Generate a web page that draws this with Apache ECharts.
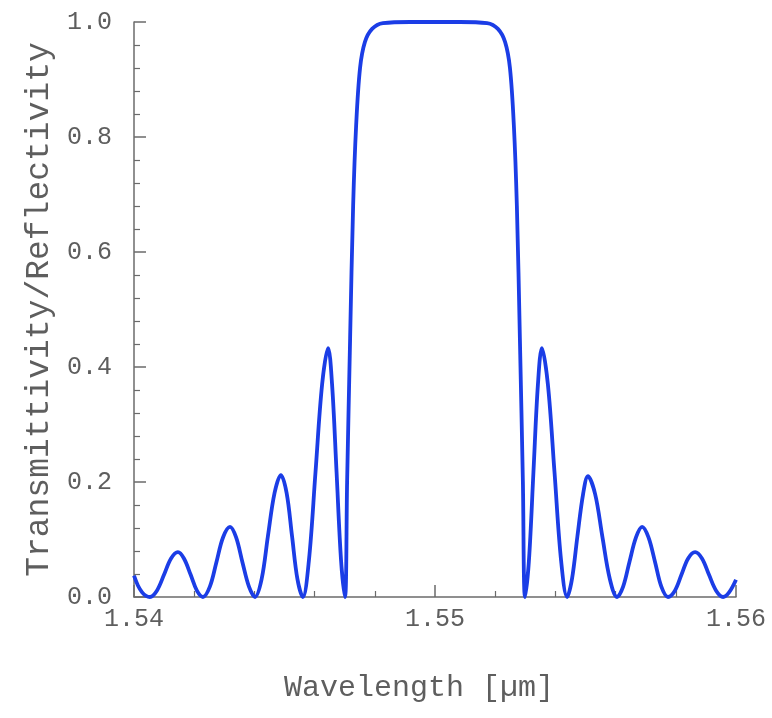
<!DOCTYPE html>
<html>
<head>
<meta charset="utf-8">
<title>Transmittivity / Reflectivity</title>
<script src="https://cdn.jsdelivr.net/npm/echarts@6/dist/echarts.min.js"></script>
<style>
  html, body { margin: 0; padding: 0; background: #fff; }
  #chart { width: 772px; height: 718px; }
</style>
</head>
<body>
<div id="chart"></div>
<script>
// wavelength in um
var wavelength = [
  1.54000, 1.54013, 1.54027, 1.54040, 1.54053,
  1.54076, 1.54100, 1.54123, 1.54146, 1.54166, 1.54188, 1.54209, 1.54229,
  1.54252, 1.54274, 1.54296, 1.54319, 1.54339, 1.54360, 1.54382, 1.54402,
  1.54424, 1.54445, 1.54467, 1.54488, 1.54507, 1.54525, 1.54543, 1.54561,
  1.54581, 1.54603, 1.54625, 1.54645, 1.54658, 1.54673, 1.54688, 1.54701,
  1.54708, 1.54718, 1.54728, 1.54738, 1.54751, 1.54767, 1.54791, 1.54827,
  1.54917, 1.55000, 1.55083,
  1.55173, 1.55209, 1.55233, 1.55249, 1.55262, 1.55272, 1.55282, 1.55292,
  1.55299, 1.55312, 1.55327, 1.55342, 1.55355, 1.55375, 1.55397, 1.55419,
  1.55439, 1.55455, 1.55473, 1.55492, 1.55508, 1.55532, 1.55556, 1.55581,
  1.55605, 1.55625, 1.55646, 1.55668, 1.55688, 1.55709, 1.55731, 1.55752,
  1.55774, 1.55797, 1.55819, 1.55841, 1.55864, 1.55887, 1.55910, 1.55934,
  1.55957, 1.55977, 1.56000
];
// reflectivity at each wavelength
var reflectivity = [
  0.037, 0.020, 0.008, 0.002, 0.000,
  0.011, 0.039, 0.067, 0.078, 0.067, 0.039, 0.011, 0.000,
  0.018, 0.061, 0.104, 0.122, 0.104, 0.061, 0.018, 0.000,
  0.031, 0.106, 0.181, 0.212, 0.181, 0.106, 0.031, 0.000,
  0.063, 0.217, 0.370, 0.433, 0.370, 0.217, 0.063, 0.000,
  0.200, 0.450, 0.680, 0.820, 0.920, 0.965, 0.988, 0.998,
  1.000, 1.000, 1.000,
  0.998, 0.988, 0.965, 0.920, 0.820, 0.680, 0.450, 0.200,
  0.000, 0.063, 0.217, 0.370, 0.433, 0.370, 0.217, 0.063,
  0.000, 0.031, 0.105, 0.179, 0.210, 0.179, 0.105, 0.031,
  0.000, 0.018, 0.061, 0.104, 0.122, 0.104, 0.061, 0.018,
  0.000, 0.011, 0.039, 0.067, 0.078, 0.067, 0.039, 0.011,
  0.000, 0.008, 0.030
];
var xTicks = [1.54, 1.55, 1.56];
var yTicks = [0.0, 0.2, 0.4, 0.6, 0.8, 1.0];

var points = wavelength.map(function (w, i) { return [w, reflectivity[i]]; });

var axisGrey = '#6b6b6b';
var textGrey = '#5e5e5e';
var mono = '"Liberation Mono", "Courier New", monospace';

var chart = echarts.init(document.getElementById('chart'));
chart.setOption({
  animation: false,
  backgroundColor: '#ffffff',
  grid: { left: 134, right: 36, top: 22, bottom: 121 },
  xAxis: {
    type: 'value',
    min: xTicks[0],
    max: xTicks[xTicks.length - 1],
    interval: 0.01,
    name: 'Wavelength [\u00b5m]',
    nameLocation: 'middle',
    nameGap: 76,
    nameTextStyle: { fontFamily: mono, fontSize: 30, color: textGrey, padding: [0, 32, 0, 0] },
    axisLine: { lineStyle: { color: axisGrey, width: 1.5 } },
    axisTick: { inside: true, length: 12, lineStyle: { color: axisGrey, width: 1.5 } },
    minorTick: { show: true, splitNumber: 5, length: 6, lineStyle: { color: axisGrey, width: 1.2 } },
    splitLine: { show: false },
    axisLabel: {
      margin: 10,
      fontFamily: mono, fontSize: 25, color: textGrey,
      formatter: function (v) { return v.toFixed(2); }
    }
  },
  yAxis: {
    type: 'value',
    min: yTicks[0],
    max: yTicks[yTicks.length - 1],
    interval: 0.2,
    name: 'Transmittivity/Reflectivity',
    nameLocation: 'middle',
    nameGap: 78,
    nameTextStyle: { fontFamily: mono, fontSize: 33, color: textGrey },
    axisLine: { show: true, lineStyle: { color: axisGrey, width: 1.5 } },
    axisTick: { show: true, inside: true, length: 12, lineStyle: { color: axisGrey, width: 1.5 } },
    minorTick: { show: true, splitNumber: 5, length: 6, lineStyle: { color: axisGrey, width: 1.2 } },
    splitLine: { show: false },
    axisLabel: {
      margin: 22,
      fontFamily: mono, fontSize: 25, color: textGrey,
      formatter: function (v) { return v.toFixed(1); }
    }
  },
  series: [{
    type: 'line',
    data: points,
    smooth: 0.35,
    symbol: 'none',
    clip: false,
    lineStyle: { color: '#1b3de6', width: 3.8 }
  }]
});
</script>
</body>
</html>
